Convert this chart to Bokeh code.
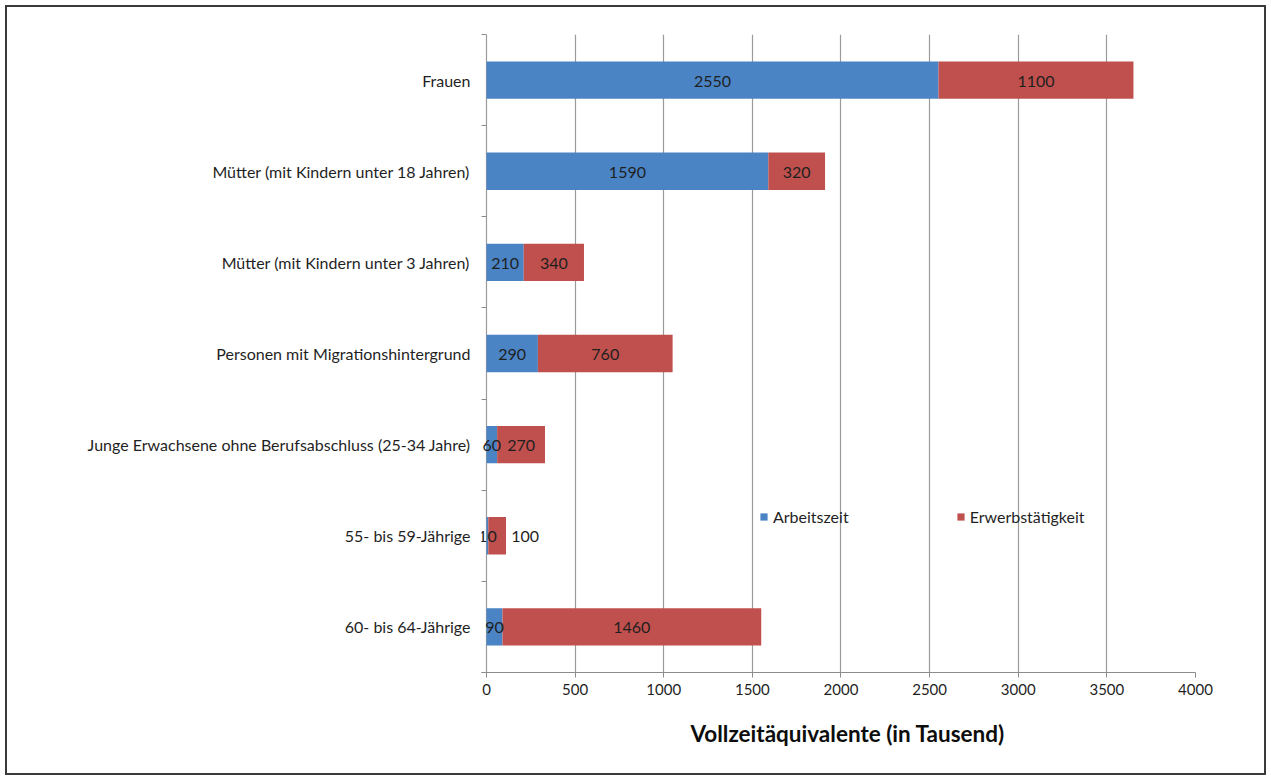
from bokeh.plotting import figure
from bokeh.models import ColumnDataSource, FixedTicker, Legend, LegendItem, Label, Title
from bokeh.embed import file_html
from bokeh.resources import INLINE

categories = [
    "Frauen",
    "Mütter (mit Kindern unter 18 Jahren)",
    "Mütter (mit Kindern unter 3 Jahren)",
    "Personen mit Migrationshintergrund",
    "Junge Erwachsene ohne Berufsabschluss (25-34 Jahre)",
    "55- bis 59-Jährige",
    "60- bis 64-Jährige",
]
arbeitszeit = [2550, 1590, 210, 290, 60, 10, 90]
erwerbstaetigkeit = [1100, 320, 340, 760, 270, 100, 1460]
x_ticks = [0, 500, 1000, 1500, 2000, 2500, 3000, 3500, 4000]
series_names = ["Arbeitszeit", "Erwerbstätigkeit"]
x_title = "Vollzeitäquivalente (in Tausend)"
colors = ["#4A84C4", "#C0504D"]

FONT = "Lato"
TEXT = "#1f1f1f"
AXIS = "#8c8c8c"

n = len(categories)
ypos = [n - i - 0.5 for i in range(n)]
ends = [a + e for a, e in zip(arbeitszeit, erwerbstaetigkeit)]

src = ColumnDataSource(dict(y=ypos, cat=categories, a=arbeitszeit, e=erwerbstaetigkeit, end=ends))

# small negative start so labels straddling the 0-line are not clipped
x_start = -28.2
p = figure(width=1271, height=780, output_backend="svg", toolbar_location=None,
           x_range=(x_start, 4000), y_range=(0, n),
           min_border_left=481, min_border_right=76, min_border_top=34, min_border_bottom=108)
p.outline_line_color = None
p.background_fill_color = "white"
p.border_fill_alpha = 0
p.styles = {"outline": "2px solid #3a3a3a", "outline-offset": "-7px", "background-color": "white"}

r1 = p.hbar(y="y", left=0, right="a", height=0.41, source=src, fill_color=colors[0], line_color=None)
r2 = p.hbar(y="y", left="a", right="end", height=0.41, source=src, fill_color=colors[1], line_color=None)

# segment value labels
for y, a, e in zip(ypos, arbeitszeit, erwerbstaetigkeit):
    p.add_layout(Label(x=a / 2, y=y, text=str(a), text_align="center", text_baseline="middle",
                       text_font="Lato", text_font_size="16px", text_color=TEXT, y_offset=-1))
    p.add_layout(Label(x=a + e / 2, y=y, text=str(e), text_align="center", text_baseline="middle",
                       text_font="Lato", text_font_size="16px", text_color=TEXT, y_offset=-1,
                       x_offset=28 if e < 150 else 0))

# x axis
p.xaxis.ticker = FixedTicker(ticks=x_ticks, minor_ticks=[])
p.xaxis.axis_line_color = AXIS
p.xaxis.major_tick_line_color = AXIS
p.xaxis.major_tick_out = 5
p.xaxis.major_tick_in = 0
p.xaxis.minor_tick_line_color = None
p.xaxis.major_label_text_font = FONT
p.xaxis.major_label_text_font_size = "15px"
p.xaxis.major_label_text_color = TEXT
p.xaxis.major_label_standoff = 6

p.add_layout(Title(text=x_title, align="left", offset=209, standoff=40,
                   text_font=FONT, text_font_style="bold", text_font_size="22.5px",
                   text_color="#0d0d0d"), "below")

# y axis: the 0 gridline acts as the axis line; boundary ticks drawn inward
p.yaxis.ticker = FixedTicker(ticks=ypos, minor_ticks=list(range(n + 1)))
p.yaxis.major_label_overrides = {y: c for y, c in zip(ypos, categories)}
p.yaxis.axis_line_color = None
p.yaxis.major_tick_line_color = None
p.yaxis.major_tick_out = 0
p.yaxis.major_tick_in = 0
p.yaxis.minor_tick_line_color = AXIS
p.yaxis.minor_tick_out = 0
p.yaxis.minor_tick_in = 5
p.yaxis.major_label_text_font = FONT
p.yaxis.major_label_text_font_size = "16px"
p.yaxis.major_label_text_color = TEXT
p.yaxis.major_label_standoff = 11

p.ygrid.grid_line_color = None
p.xgrid.grid_line_color = "#9a9a9a"
p.xgrid.grid_line_width = 1.2

legend = Legend(items=[LegendItem(label=series_names[0], renderers=[r1]),
                       LegendItem(label=series_names[1], renderers=[r2])],
                orientation="horizontal", location=(278, 146),
                glyph_width=9, glyph_height=9, label_standoff=5, spacing=107,
                padding=0, margin=0, border_line_color=None, background_fill_alpha=0,
                label_text_font=FONT, label_text_font_size="16px", label_text_color=TEXT,
                label_height=18)
p.add_layout(legend, "center")

open("out.html", "w").write(file_html(p, INLINE))
